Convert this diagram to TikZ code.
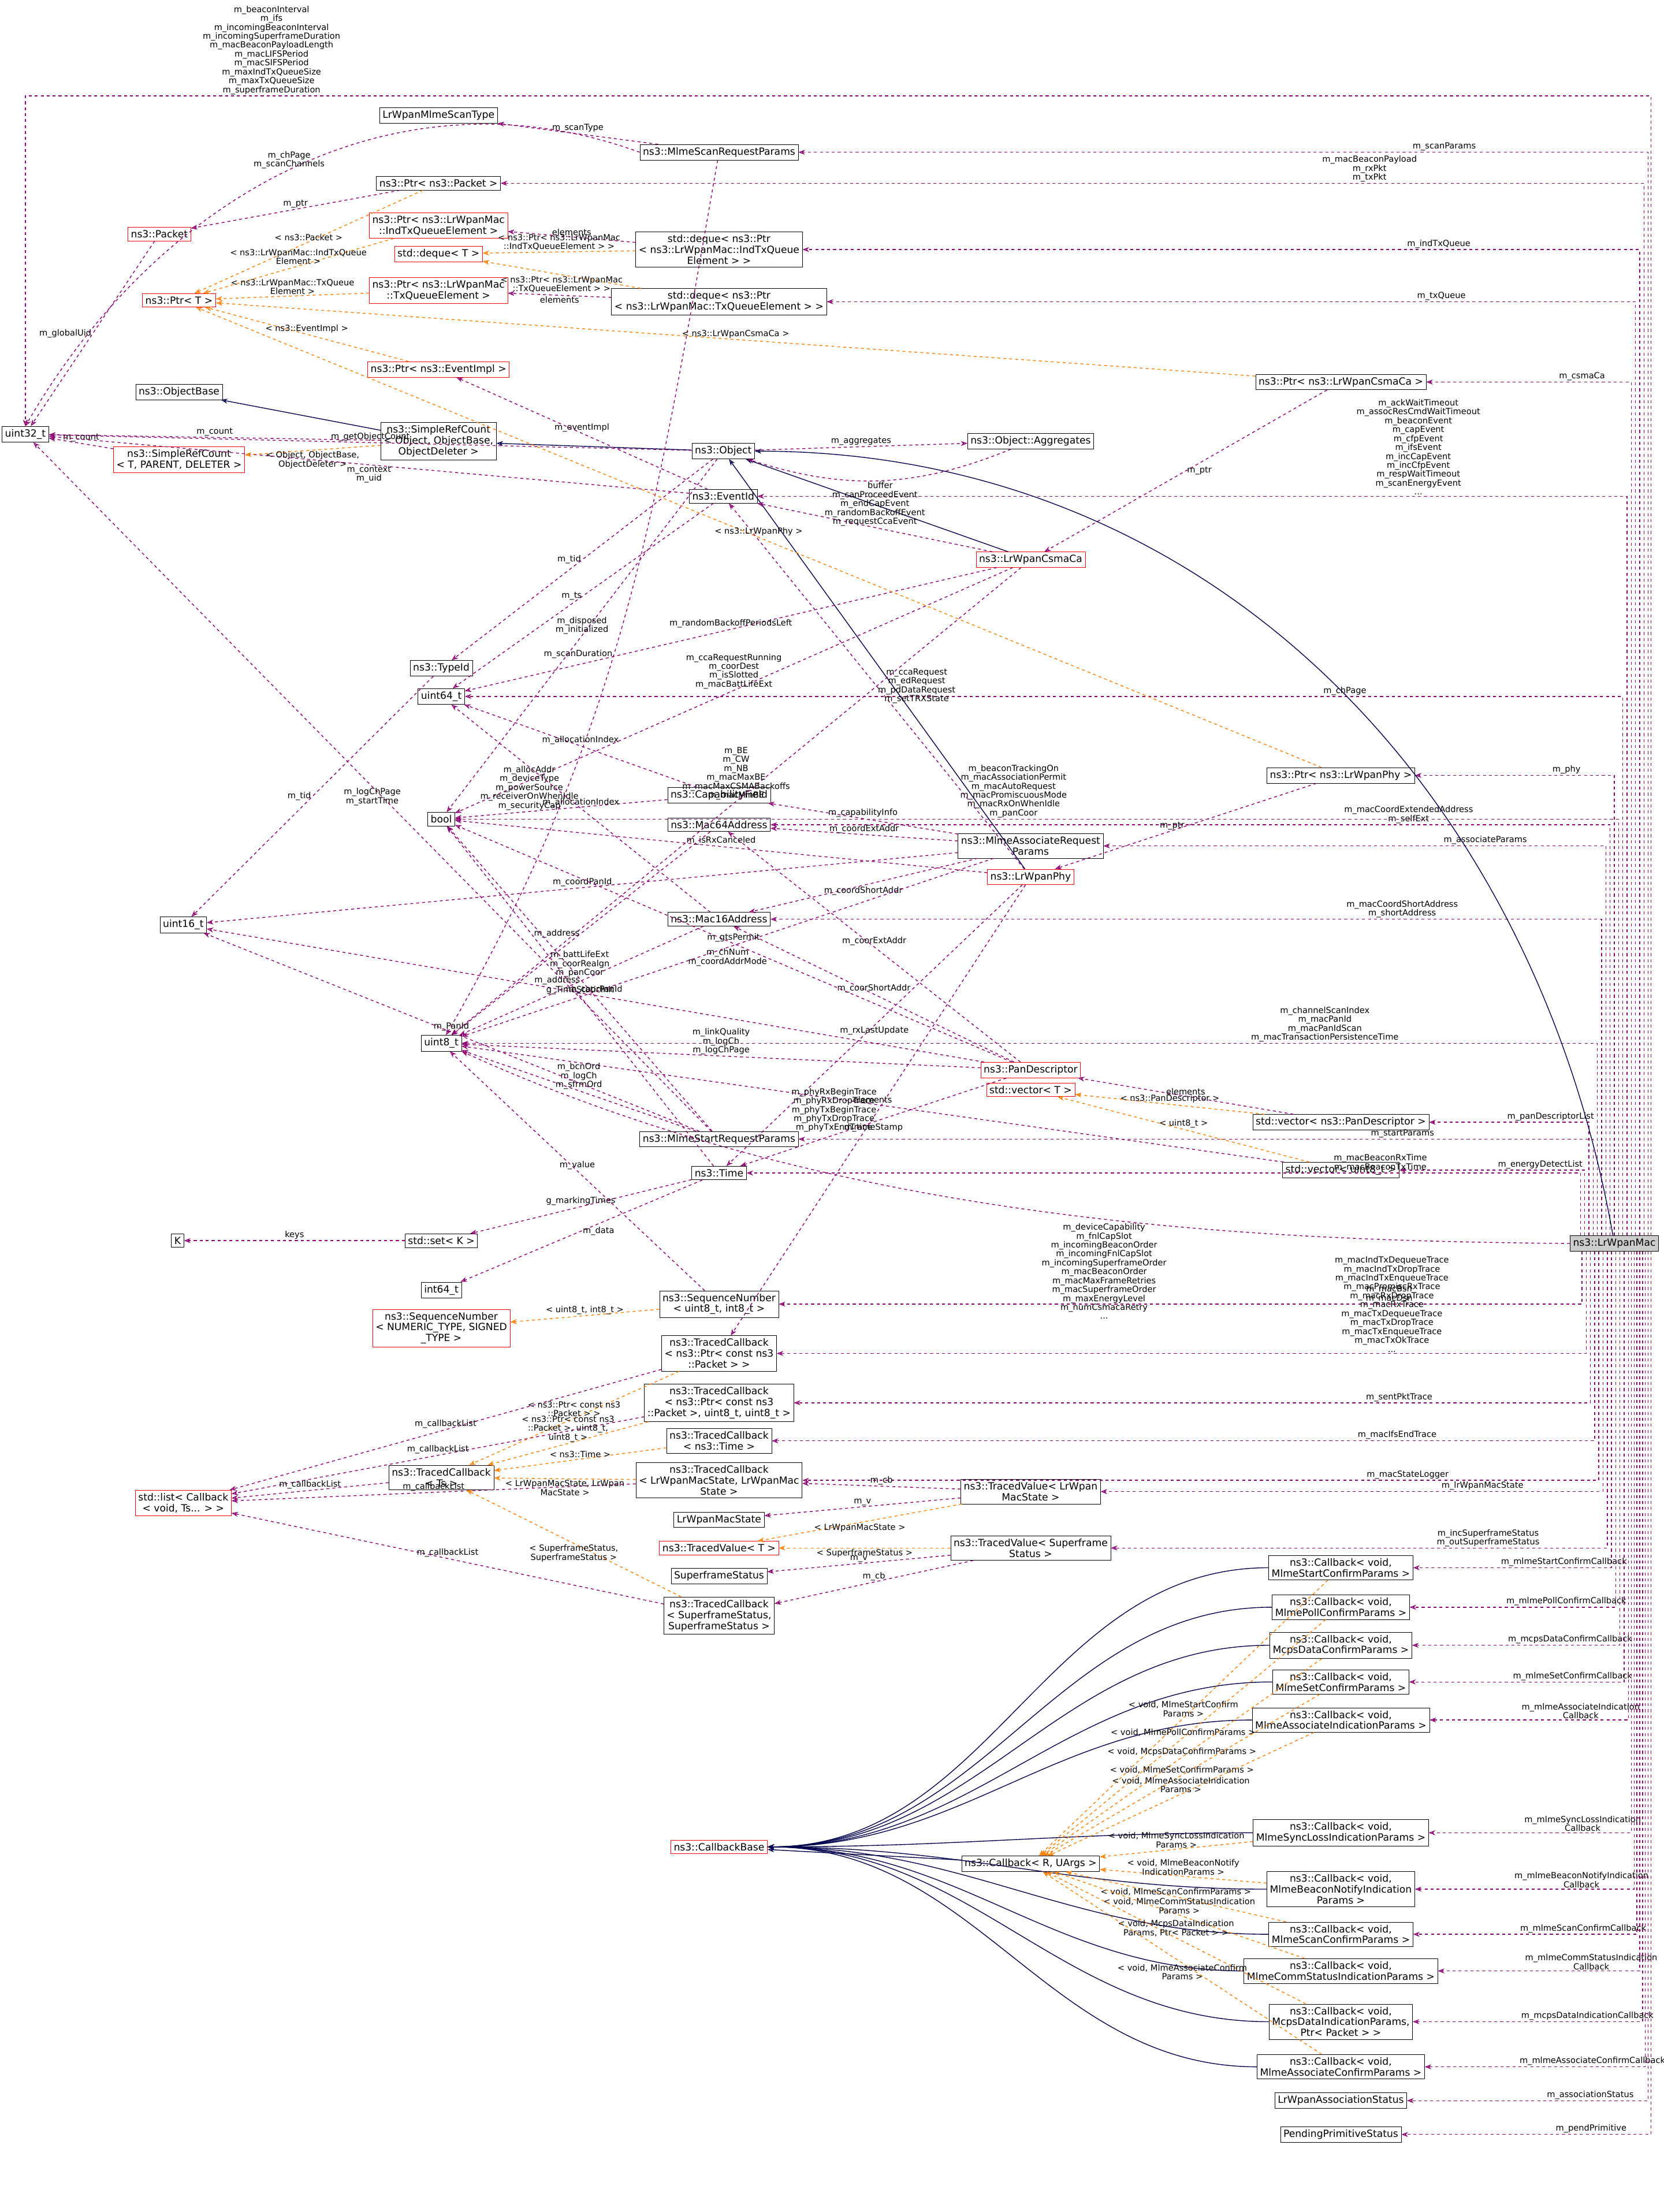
\documentclass[tikz,border=0pt]{standalone}
\usepackage{fontspec}
\setmainfont{DejaVu Sans}
\usetikzlibrary{arrows.meta, positioning}

\tikzset{
  cls/.style={draw, fill=white, inner sep=3pt, align=center, font=\fontsize{10}{11}\selectfont},
  tmpl/.style={cls, draw=red},
  member/.style={draw=violet!80!purple, dashed, thick, -{Stealth[open]}},
  inst/.style={draw=orange, dashed, thick, -{Stealth[open]}},
  inherit/.style={draw=blue!30!black, thick, -{Stealth[open]}},
  lbl/.style={font=\fontsize{8.5}{9}\selectfont, align=center, inner sep=1pt, text=black}
}
\newcommand\topedge[5][0.62]{\draw[member] ([xshift=#2*0.5cm]mac.north) |- node[lbl,pos=#1,above]{#5} (#3.#4);}
\newcommand\botedge[5][0.62]{\draw[member] ([xshift=#2*0.5cm]mac.south) |- node[lbl,pos=#1,above]{#5} (#3.#4);}

\begin{document}
\begin{tikzpicture}[x=0.05cm,y=-0.05cm]
\useasboundingbox (0,0) rectangle (1180,1569);

% left column
\node (u32) [cls] at (18,308) {uint32\_t};
\node (packet) [tmpl] at (113,166) {ns3::Packet};
\node (ptrT) [tmpl] at (127,213) {ns3::Ptr< T >};
\node (objbase) [cls] at (127,278) {ns3::ObjectBase};
\node (srefT) [tmpl] at (127,326) {ns3::SimpleRefCount\\< T, PARENT, DELETER >};
\node (u16) [cls] at (130,656) {uint16\_t};
\node (K) [cls] at (126,880) {K};
\node (list) [tmpl] at (130,1066) {std::list< Callback\\< void, Ts... > >};

% second column
\node (scantype) [cls] at (311,82) {LrWpanMlmeScanType};
\node (ptrpkt) [cls] at (311,130) {ns3::Ptr< ns3::Packet >};
\node (ptrind) [tmpl] at (311,160) {ns3::Ptr< ns3::LrWpanMac\\::IndTxQueueElement >};
\node (dequeT) [tmpl] at (311,180) {std::deque< T >};
\node (ptrtx) [tmpl] at (311,206) {ns3::Ptr< ns3::LrWpanMac\\::TxQueueElement >};
\node (ptrevent) [tmpl] at (311,262) {ns3::Ptr< ns3::EventImpl >};
\node (sref) [cls] at (311,313) {ns3::SimpleRefCount\\< Object, ObjectBase,\\ObjectDeleter >};
\node (tid) [cls] at (313,474) {ns3::TypeId};
\node (u64) [cls] at (313,494) {uint64\_t};
\node (bool) [cls] at (313,581) {bool};
\node (u8) [cls] at (313,740) {uint8\_t};
\node (set) [cls] at (313,880) {std::set< K >};
\node (i64) [cls] at (313,915) {int64\_t};
\node (seqT) [tmpl] at (313,942) {ns3::SequenceNumber\\< NUMERIC\_TYPE, SIGNED\\\_TYPE >};
\node (tcT) [cls] at (313,1048) {ns3::TracedCallback\\< Ts >};

% third column
\node (scan) [cls] at (510,108) {ns3::MlmeScanRequestParams};
\node (dqind) [cls] at (510,177) {std::deque< ns3::Ptr\\< ns3::LrWpanMac::IndTxQueue\\Element > >};
\node (dqtx) [cls] at (510,214) {std::deque< ns3::Ptr\\< ns3::LrWpanMac::TxQueueElement > >};
\node (object) [cls] at (513,320) {ns3::Object};
\node (eventid) [cls] at (513,352) {ns3::EventId};
\node (capfield) [cls] at (510,564) {ns3::CapabilityField};
\node (mac64) [cls] at (510,585) {ns3::Mac64Address};
\node (mac16) [cls] at (510,652) {ns3::Mac16Address};
\node (startreq) [cls] at (510,808) {ns3::MlmeStartRequestParams};
\node (time) [cls] at (510,832) {ns3::Time};
\node (seq) [cls] at (510,925) {ns3::SequenceNumber\\< uint8\_t, int8\_t >};
\node (tcpkt) [cls] at (510,960) {ns3::TracedCallback\\< ns3::Ptr< const ns3\\::Packet > >};
\node (tcpkt3) [cls] at (510,995) {ns3::TracedCallback\\< ns3::Ptr< const ns3\\::Packet >, uint8\_t, uint8\_t >};
\node (tctime) [cls] at (510,1022) {ns3::TracedCallback\\< ns3::Time >};
\node (tcstate) [cls] at (510,1050) {ns3::TracedCallback\\< LrWpanMacState, LrWpanMac\\State >};
\node (macstate) [cls] at (510,1078) {LrWpanMacState};
\node (tvT) [tmpl] at (510,1098) {ns3::TracedValue< T >};
\node (sfstatus) [cls] at (510,1118) {SuperframeStatus};
\node (tcsf) [cls] at (510,1146) {ns3::TracedCallback\\< SuperframeStatus,\\SuperframeStatus >};
\node (cbbase) [tmpl] at (510,1310) {ns3::CallbackBase};

% fourth column
\node (agg) [cls] at (731,313) {ns3::Object::Aggregates};
\node (csmaca) [tmpl] at (731,397) {ns3::LrWpanCsmaCa};
\node (assocreq) [cls] at (731,600) {ns3::MlmeAssociateRequest\\Params};
\node (phy) [tmpl] at (731,622) {ns3::LrWpanPhy};
\node (pan) [tmpl] at (731,759) {ns3::PanDescriptor};
\node (vecT) [tmpl] at (731,773) {std::vector< T >};
\node (tvstate) [cls] at (731,1058) {ns3::TracedValue< LrWpan\\MacState >};
\node (tvsf) [cls] at (731,1098) {ns3::TracedValue< Superframe\\Status >};
\node (cbR) [cls] at (731,1322) {ns3::Callback< R, UArgs >};

% fifth column
\node (ptrcsma) [cls] at (951,271) {ns3::Ptr< ns3::LrWpanCsmaCa >};
\node (ptrphy) [cls] at (951,550) {ns3::Ptr< ns3::LrWpanPhy >};
\node (vecpan) [cls] at (951,796) {std::vector< ns3::PanDescriptor >};
\node (vecu8) [cls] at (951,830) {std::vector< uint8\_t >};
\node (cbstart) [cls] at (951,1112) {ns3::Callback< void,\\MlmeStartConfirmParams >};
\node (cbpoll) [cls] at (951,1140) {ns3::Callback< void,\\MlmePollConfirmParams >};
\node (cbdata) [cls] at (951,1167) {ns3::Callback< void,\\McpsDataConfirmParams >};
\node (cbset) [cls] at (951,1193) {ns3::Callback< void,\\MlmeSetConfirmParams >};
\node (cbassocind) [cls] at (951,1220) {ns3::Callback< void,\\MlmeAssociateIndicationParams >};
\node (cbsync) [cls] at (951,1300) {ns3::Callback< void,\\MlmeSyncLossIndicationParams >};
\node (cbbeacon) [cls] at (951,1340) {ns3::Callback< void,\\MlmeBeaconNotifyIndication\\Params >};
\node (cbscan) [cls] at (951,1372) {ns3::Callback< void,\\MlmeScanConfirmParams >};
\node (cbcomm) [cls] at (951,1398) {ns3::Callback< void,\\MlmeCommStatusIndicationParams >};
\node (cbind) [cls] at (951,1434) {ns3::Callback< void,\\McpsDataIndicationParams,\\Ptr< Packet > >};
\node (cbassoc) [cls] at (951,1466) {ns3::Callback< void,\\MlmeAssociateConfirmParams >};
\node (assocstatus) [cls] at (951,1490) {LrWpanAssociationStatus};
\node (pending) [cls] at (951,1514) {PendingPrimitiveStatus};

\node (mac) [cls, fill=gray!40, minimum width=2.8cm] at (1145,882) {ns3::LrWpanMac};
\coordinate (utop) at (600,68);

% members of the mac, upwards
\draw[member] ([xshift=1.3cm]mac.north) |- (utop) -| node[lbl,pos=0.35,above]{m\_beaconInterval\\m\_ifs\\m\_incomingBeaconInterval\\m\_incomingSuperframeDuration\\m\_macBeaconPayloadLength\\m\_macLIFSPeriod\\m\_macSIFSPeriod\\m\_maxIndTxQueueSize\\m\_maxTxQueueSize\\m\_superframeDuration} (u32.north);
\topedge{2.4}{scan}{east}{m\_scanParams}
\topedge{2.1}{ptrpkt}{east}{m\_macBeaconPayload\\m\_rxPkt\\m\_txPkt}
\topedge{1.8}{dqind}{east}{m\_indTxQueue}
\topedge{1.5}{dqtx}{east}{m\_txQueue}
\topedge{1.2}{ptrcsma}{east}{m\_csmaCa}
\topedge{0.9}{eventid}{east}{m\_ackWaitTimeout\\m\_assocResCmdWaitTimeout\\m\_beaconEvent\\m\_capEvent\\m\_cfpEvent\\m\_ifsEvent\\m\_incCapEvent\\m\_incCfpEvent\\m\_respWaitTimeout\\m\_scanEnergyEvent\\...}
\topedge{0.6}{u64}{east}{m\_chPage}
\topedge[0.76]{0.3}{bool}{east}{m\_beaconTrackingOn\\m\_macAssociationPermit\\m\_macAutoRequest\\m\_macPromiscuousMode\\m\_macRxOnWhenIdle\\m\_panCoor}
\topedge{0.0}{ptrphy}{east}{m\_phy}
\topedge{-0.3}{mac64}{east}{m\_macCoordExtendedAddress\\m\_selfExt}
\topedge{-0.6}{assocreq}{east}{m\_associateParams}
\topedge{-0.9}{mac16}{east}{m\_macCoordShortAddress\\m\_shortAddress}
\topedge{-1.2}{u8}{east}{m\_channelScanIndex\\m\_macPanId\\m\_macPanIdScan\\m\_macTransactionPersistenceTime}
\topedge{-1.5}{startreq}{east}{m\_startParams}
\topedge{-1.8}{vecpan}{east}{m\_panDescriptorList}
\topedge{-2.1}{vecu8}{east}{m\_energyDetectList}
\topedge{-2.4}{time}{east}{m\_macBeaconRxTime\\m\_macBeaconTxTime}

% members of the mac, downwards
\draw[member] (mac.west) .. controls (900,880) and (600,870) .. node[lbl,pos=0.45,below=3pt]{m\_deviceCapability\\m\_fnlCapSlot\\m\_incomingBeaconOrder\\m\_incomingFnlCapSlot\\m\_incomingSuperframeOrder\\m\_macBeaconOrder\\m\_macMaxFrameRetries\\m\_macSuperframeOrder\\m\_maxEnergyLevel\\m\_numCsmacaRetry\\...} (u8.south east);
\botedge{-2.3}{seq}{east}{m\_macBsn\\m\_macDsn}
\botedge{-2.0}{tcpkt}{east}{m\_macIndTxDequeueTrace\\m\_macIndTxDropTrace\\m\_macIndTxEnqueueTrace\\m\_macPromiscRxTrace\\m\_macRxDropTrace\\m\_macRxTrace\\m\_macTxDequeueTrace\\m\_macTxDropTrace\\m\_macTxEnqueueTrace\\m\_macTxOkTrace\\...}
\botedge{-1.7}{tcpkt3}{east}{m\_sentPktTrace}
\botedge{-1.4}{tctime}{east}{m\_macIfsEndTrace}
\botedge{-1.1}{tcstate}{east}{m\_macStateLogger}
\botedge{-0.8}{tvstate}{east}{m\_lrWpanMacState}
\botedge{-0.5}{tvsf}{east}{m\_incSuperframeStatus\\m\_outSuperframeStatus}
\botedge{-0.2}{cbstart}{east}{m\_mlmeStartConfirmCallback}
\botedge{0.1}{cbpoll}{east}{m\_mlmePollConfirmCallback}
\botedge{0.4}{cbdata}{east}{m\_mcpsDataConfirmCallback}
\botedge{0.7}{cbset}{east}{m\_mlmeSetConfirmCallback}
\botedge{1.0}{cbassocind}{east}{m\_mlmeAssociateIndication\\Callback}
\botedge{1.2}{cbsync}{east}{m\_mlmeSyncLossIndication\\Callback}
\botedge{1.4}{cbbeacon}{east}{m\_mlmeBeaconNotifyIndication\\Callback}
\botedge{1.6}{cbscan}{east}{m\_mlmeScanConfirmCallback}
\botedge{1.8}{cbcomm}{east}{m\_mlmeCommStatusIndication\\Callback}
\botedge{2.0}{cbind}{east}{m\_mcpsDataIndicationCallback}
\botedge{2.2}{cbassoc}{east}{m\_mlmeAssociateConfirmCallback}
\botedge{2.4}{assocstatus}{east}{m\_associationStatus}
\botedge{2.6}{pending}{east}{m\_pendPrimitive}

% inheritance
\draw[inherit] (mac) to[out=100,in=0] (object.east);
\draw[inherit] (csmaca) -- (object);
\draw[inherit] (phy) -- (object);
\draw[inherit] (object) -- (sref);
\draw[inherit] (sref) -- (objbase);
\draw[inherit] (cbR) -- (cbbase);
\foreach \cb in {cbstart,cbpoll,cbdata,cbset,cbassocind,cbsync,cbbeacon,cbscan,cbcomm,cbind,cbassoc}
  \draw[inherit] (\cb.west) to[out=180,in=0] (cbbase.east);

% other members
\draw[member] (packet) -- node[lbl,left]{m\_globalUid} (u32);
\draw[member] (ptrpkt) -- node[lbl,above]{m\_ptr} (packet);
\draw[member] (scan) -- node[lbl,above]{m\_scanType} (scantype);
\draw[member] (scan.west) to[out=160,in=60] node[lbl,above]{m\_chPage\\m\_scanChannels} (u32.north);
\draw[member] (scan) to[out=-100,in=60] node[lbl,pos=0.55,left]{m\_scanDuration} (u8);
\draw[member] (dqind) -- node[lbl,above]{elements} (ptrind);
\draw[member] (dqtx) -- node[lbl,below]{elements} (ptrtx);
\draw[member] (eventid) -- node[lbl,above]{m\_eventImpl} (ptrevent);
\draw[member] (sref) -- node[lbl,above]{m\_count} (u32);
\draw[member] (srefT) -- node[lbl,above]{m\_count} (u32);
\draw[member] (object) -- node[lbl,above]{m\_getObjectCount} (u32);
\draw[member] (object) -- node[lbl,above]{m\_aggregates} (agg);
\draw[member] (agg) to[bend left=20] node[lbl,below]{buffer} (object);
\draw[member] (object) -- node[lbl,left]{m\_tid} (tid);
\draw[member] (eventid) -- node[lbl,below]{m\_context\\m\_uid} (u32);
\draw[member] (eventid) -- node[lbl,left]{m\_ts} (u64);
\draw[member] (csmaca) -- node[lbl,above]{m\_canProceedEvent\\m\_endCapEvent\\m\_randomBackoffEvent\\m\_requestCcaEvent} (eventid);
\draw[member] (csmaca) -- node[lbl,above]{m\_randomBackoffPeriodsLeft} (u64);
\draw[member] (csmaca) -- node[lbl,above]{m\_ccaRequestRunning\\m\_coorDest\\m\_isSlotted\\m\_macBattLifeExt} (bool);
\draw[member] (csmaca) -- node[lbl,above]{m\_BE\\m\_CW\\m\_NB\\m\_macMaxBE\\m\_macMaxCSMABackoffs\\m\_macMinBE} (u8);
\draw[member] (ptrcsma) -- node[lbl,right]{m\_ptr} (csmaca);
\draw[member] (ptrphy) -- node[lbl,left]{m\_ptr} (phy);
\draw[member] (phy) -- node[lbl,right]{m\_ccaRequest\\m\_edRequest\\m\_pdDataRequest\\m\_setTRXState} (eventid);
\draw[member] (phy) -- node[lbl,above]{m\_isRxCanceled} (bool);
\draw[member] (phy) -- node[lbl,below]{m\_rxLastUpdate} (time);
\draw[member] (object) -- node[lbl,above]{m\_disposed\\m\_initialized} (bool);
\draw[member] (tid) -- node[lbl,left]{m\_tid} (u16);
\draw[member] (capfield) -- node[lbl,above,pos=0.65]{m\_allocAddr\\m\_deviceType\\m\_powerSource\\m\_receiverOnWhenIdle\\m\_securityCap} (bool);
\draw[member] (capfield) -- node[lbl,above]{m\_allocationIndex} (u64);
\draw[member] (assocreq) -- node[lbl,above]{m\_capabilityInfo} (capfield);
\draw[member] (assocreq) -- node[lbl,above]{m\_coordExtAddr} (mac64);
\draw[member] (assocreq) -- node[lbl,below]{m\_coordShortAddr} (mac16);
\draw[member] (assocreq) -- node[lbl,above]{m\_coordPanId} (u16);
\draw[member] (assocreq) -- node[lbl,below]{m\_chNum\\m\_coordAddrMode} (u8);
\draw[member] (mac64) -- node[lbl,left]{m\_address} (u8);
\draw[member] (mac16) -- node[lbl,left]{m\_address} (u8);
\draw[member] (mac16) -- node[lbl,above]{m\_allocationIndex} (u64);
\draw[member] (pan) -- node[lbl,above]{m\_coorExtAddr} (mac64);
\draw[member] (pan) -- node[lbl,above]{m\_coorShortAddr} (mac16);
\draw[member] (pan) -- node[lbl,above]{m\_gtsPermit} (bool);
\draw[member] (pan) -- node[lbl,above]{m\_linkQuality\\m\_logCh\\m\_logChPage} (u8);
\draw[member] (pan) -- node[lbl,above]{m\_coorPanId} (u16);
\draw[member] (pan) -- node[lbl,below]{m\_timeStamp} (time);
\draw[member] (vecpan) -- node[lbl,above]{elements} (pan);
\draw[member] (vecu8) -- node[lbl,above]{elements} (u8);
\draw[member] (startreq) -- node[lbl,above]{m\_bcnOrd\\m\_logCh\\m\_sfrmOrd} (u8);
\draw[member] (startreq) -- node[lbl,above]{m\_PanId} (u16);
\draw[member] (startreq) -- node[lbl,above]{m\_battLifeExt\\m\_coorRealgn\\m\_panCoor} (bool);
\draw[member] (startreq) -- node[lbl,below]{m\_logChPage\\m\_startTime} (u32);
\draw[member] (time) -- node[lbl,above]{g\_TimeStaticInit} (bool);
\draw[member] (time) -- node[lbl,above]{g\_markingTimes} (set);
\draw[member] (time) -- node[lbl,right]{m\_data} (i64);
\draw[member] (set) -- node[lbl,above]{keys} (K);
\draw[member] (seq) -- node[lbl,above]{m\_value} (u8);
\draw[member] (phy) -- node[lbl,left]{m\_phyRxBeginTrace\\m\_phyRxDropTrace\\m\_phyTxBeginTrace\\m\_phyTxDropTrace\\m\_phyTxEndTrace} (tcpkt);
\foreach \tc in {tcpkt,tcpkt3,tcstate,tcsf,tcT}
  \draw[member] (\tc) -- node[lbl,above]{m\_callbackList} (list);
\draw[member] (tvstate) -- node[lbl,above]{m\_cb} (tcstate);
\draw[member] (tvstate) -- node[lbl,above]{m\_v} (macstate);
\draw[member] (tvsf) -- node[lbl,above]{m\_cb} (tcsf);
\draw[member] (tvsf) -- node[lbl,above]{m\_v} (sfstatus);

% template instances
\draw[inst] (ptrpkt) -- node[lbl,above]{< ns3::Packet >} (ptrT);
\draw[inst] (ptrind) -- node[lbl,above]{< ns3::LrWpanMac::IndTxQueue\\Element >} (ptrT);
\draw[inst] (ptrtx) -- node[lbl,above]{< ns3::LrWpanMac::TxQueue\\Element >} (ptrT);
\draw[inst] (ptrevent) -- node[lbl,above]{< ns3::EventImpl >} (ptrT);
\draw[inst] (ptrcsma) -- node[lbl,above]{< ns3::LrWpanCsmaCa >} (ptrT);
\draw[inst] (ptrphy) -- node[lbl,above]{< ns3::LrWpanPhy >} (ptrT);
\draw[inst] (dqind) -- node[lbl,above]{< ns3::Ptr< ns3::LrWpanMac\\::IndTxQueueElement > >} (dequeT);
\draw[inst] (dqtx) -- node[lbl,below]{< ns3::Ptr< ns3::LrWpanMac\\::TxQueueElement > >} (dequeT);
\draw[inst] (sref) -- node[lbl,below]{< Object, ObjectBase,\\ObjectDeleter >} (srefT);
\draw[inst] (vecpan) -- node[lbl,above]{< ns3::PanDescriptor >} (vecT);
\draw[inst] (vecu8) -- node[lbl,above]{< uint8\_t >} (vecT);
\draw[inst] (seq) -- node[lbl,above]{< uint8\_t, int8\_t >} (seqT);
\draw[inst] (tcpkt) -- node[lbl,above]{< ns3::Ptr< const ns3\\::Packet > >} (tcT);
\draw[inst] (tcpkt3) -- node[lbl,above]{< ns3::Ptr< const ns3\\::Packet >, uint8\_t,\\uint8\_t >} (tcT);
\draw[inst] (tctime) -- node[lbl,above]{< ns3::Time >} (tcT);
\draw[inst] (tcstate) -- node[lbl,below]{< LrWpanMacState, LrWpan\\MacState >} (tcT);
\draw[inst] (tcsf) -- node[lbl,below]{< SuperframeStatus,\\SuperframeStatus >} (tcT);
\draw[inst] (tvstate) -- node[lbl,below]{< LrWpanMacState >} (tvT);
\draw[inst] (tvsf) -- node[lbl,below]{< SuperframeStatus >} (tvT);
\draw[inst] (cbstart) -- node[lbl,above]{< void, MlmeStartConfirm\\Params >} (cbR);
\draw[inst] (cbpoll) -- node[lbl,above]{< void, MlmePollConfirmParams >} (cbR);
\draw[inst] (cbdata) -- node[lbl,above]{< void, McpsDataConfirmParams >} (cbR);
\draw[inst] (cbset) -- node[lbl,above]{< void, MlmeSetConfirmParams >} (cbR);
\draw[inst] (cbassocind) -- node[lbl,above]{< void, MlmeAssociateIndication\\Params >} (cbR);
\draw[inst] (cbsync) -- node[lbl,above]{< void, MlmeSyncLossIndication\\Params >} (cbR);
\draw[inst] (cbbeacon) -- node[lbl,above]{< void, MlmeBeaconNotify\\IndicationParams >} (cbR);
\draw[inst] (cbscan) -- node[lbl,above]{< void, MlmeScanConfirmParams >} (cbR);
\draw[inst] (cbcomm) -- node[lbl,above]{< void, MlmeCommStatusIndication\\Params >} (cbR);
\draw[inst] (cbind) -- node[lbl,above]{< void, McpsDataIndication\\Params, Ptr< Packet > >} (cbR);
\draw[inst] (cbassoc) -- node[lbl,below]{< void, MlmeAssociateConfirm\\Params >} (cbR);
\end{tikzpicture}
\end{document}
